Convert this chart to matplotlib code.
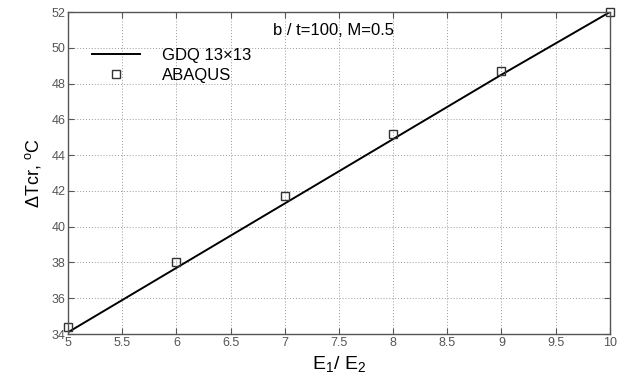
import matplotlib
matplotlib.use("Agg")
import matplotlib.pyplot as plt

plt.rcParams["font.family"] = ["Liberation Sans", "DejaVu Sans"]

# data
ratio = [5, 6, 7, 8, 9, 10]
gdq = [34.1, 37.7, 41.3, 44.9, 48.5, 52.0]
abaqus = [34.4, 38.05, 41.7, 45.2, 48.7, 52.0]
x_ticks = [5, 5.5, 6, 6.5, 7, 7.5, 8, 8.5, 9, 9.5, 10]
x_tick_labels = ["5", "5.5", "6", "6.5", "7", "7.5", "8", "8.5", "9", "9.5", "10"]
y_ticks = [34, 36, 38, 40, 42, 44, 46, 48, 50, 52]

fig = plt.figure(figsize=(6.19, 3.8), dpi=100)
ax = fig.add_axes([0.110, 0.121, 0.875, 0.847])

ax.plot(ratio, gdq, color="black", linewidth=1.4, label="GDQ 13\u00d713")
ax.plot(ratio, abaqus, linestyle="none", marker="s", markersize=5.5,
        markerfacecolor="none", markeredgecolor="#333333", markeredgewidth=1.0,
        label="ABAQUS", clip_on=False)

ax.set_xlim(5, 10)
ax.set_ylim(34, 52)
ax.set_xticks(x_ticks)
ax.set_xticklabels(x_tick_labels)
ax.set_yticks(y_ticks)
ax.tick_params(direction="in", length=4, labelsize=9, colors="#555555",
               labelcolor="#555555", top=True, right=True, pad=2)
ax.grid(True, linestyle=(0, (1, 2)), color="#999999", linewidth=0.7)
for spine in ax.spines.values():
    spine.set_color("#555555")
    spine.set_linewidth(1.0)

ax.set_xlabel("E$_\\mathregular{1}$/ E$_\\mathregular{2}$", fontsize=14, labelpad=4)
ax.set_ylabel("\u0394Tcr, $^\\mathregular{o}$C", fontsize=13, labelpad=6)

ax.text(6.89, 50.7, "b / t=100, M=0.5", fontsize=12)

leg = ax.legend(loc="upper left", bbox_to_anchor=(0.022, 0.925), frameon=False,
                fontsize=12, handlelength=2.9, handletextpad=1.3,
                labelspacing=0.3, borderaxespad=0.3)
leg.set_zorder(5)

fig.savefig("out.png", dpi=100)
